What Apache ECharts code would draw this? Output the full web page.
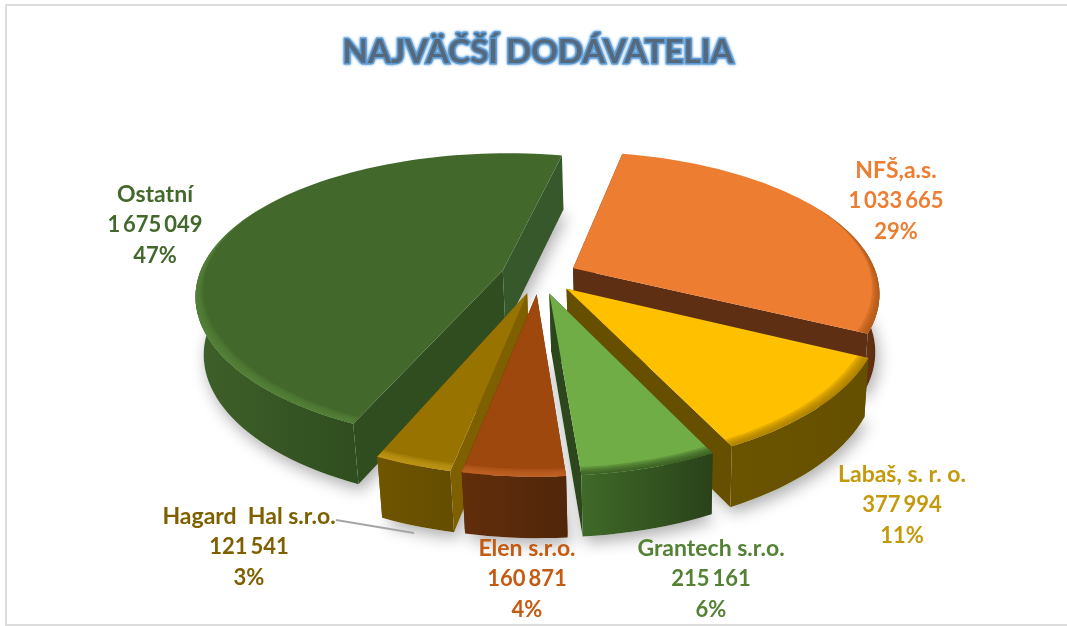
<!DOCTYPE html>
<html><head><meta charset="utf-8">
<style>html,body{margin:0;padding:0;background:#fff}#c{width:1067px;height:626px}</style>
<script src="https://cdn.jsdelivr.net/npm/echarts@6/dist/echarts.min.js"></script>
</head><body><div id="c"></div>
<script>
const titleText = 'NAJVÄČŠÍ DODÁVATELIA';
const names = ['NFŠ,a.s.', 'Labaš, s. r. o.', 'Grantech s.r.o.', 'Elen s.r.o.', 'Hagard  Hal s.r.o.', 'Ostatní'];
const values = [1033665, 377994, 215161, 160871, 121541, 1675049];

const topColors = ['#ed7d31', '#ffc000', '#70ad47', '#9e480e', '#997300', '#43682b'];
const bevelColors = ['#a85318', '#9a7400', '#2f4f1d', '#c9672a', '#c7a01c', '#56863a'];
const rimLeft = ['#6a3515', '#6b5400', '#3f6a28', '#622e0b', '#6f5500', '#3f6029'];
const rimRight = ['#5a2c10', '#655000', '#2a421a', '#50260a', '#644d00', '#2f4d1f'];
const startFace = ['#5f2f13', '#665000', '#2c471b', '#5a2a0a', '#7f6000', '#2f4d1f'];
const endFace = ['#5f2f13', '#665000', '#2c471b', '#5a2a0a', '#7f6000', '#37582a'];
const labelColors = ['#ed7d31', '#c49a0c', '#548235', '#c55a11', '#7f6000', '#43682b'];
const labelCentres = [[896, 201], [902, 505], [711, 579], [527, 579], [249, 547], [155, 225]];

const view = {cx: 539, cy: 276, R: 304, Ry: 141, perspX: 0.165, perspY: 0.186, explode: 0.126, depth: 57.5, startDeg: 12};

const total = values.reduce((a, b) => a + b, 0);
const rad = d => d * Math.PI / 180;
let acc = view.startDeg;
const slices = values.map(v => {
  const a0 = acc, a1 = acc + v / total * 360;
  acc = a1;
  return {a0, a1, b: (a0 + a1) / 2};
});
const groupDigits = n => String(n).replace(/\B(?=(\d{3})+$)/g, '\u2009');

function pt(s, r, deg, low) {
  const u = view.explode * Math.sin(rad(s.b)) + r * Math.sin(rad(deg));
  const v = view.explode * Math.cos(rad(s.b)) + r * Math.cos(rad(deg));
  let x = view.R * u / (1 + view.perspX * v), y = -view.Ry * v / (1 + view.perspY * v);
  if (low) { x = x * 0.982 + 2; y += view.depth * (1 - 0.06 * v); }
  return [view.cx + x, view.cy + y];
}
function arcAngles(s) {
  const out = [], n = Math.max(4, Math.ceil((s.a1 - s.a0) / 2));
  for (let i = 0; i <= n; i++) out.push(s.a0 + (s.a1 - s.a0) * i / n);
  return out;
}
const hgrad = (l, r) => new echarts.graphic.LinearGradient(0, 0, 1, 0, [{offset: 0, color: l}, {offset: 1, color: r}]);

const paintOrder = slices.map((s, i) => i).sort((a, b) => Math.cos(rad(slices[b].b)) - Math.cos(rad(slices[a].b)));

function renderShadow(params, api) {
  const s = slices[api.value(0)];
  return {type: 'polygon', shape: {points: [pt(s, 0, s.a0, true)].concat(arcAngles(s).map(d => pt(s, 1, d, true)))},
    style: {fill: '#fff', shadowColor: 'rgba(0,0,0,0.32)', shadowBlur: 16, shadowOffsetX: 3, shadowOffsetY: 6}, silent: true};
}
function renderSlice(params, api) {
  const i = api.value(0), s = slices[i], kids = [];
  const V = pt(s, 0, s.a0, false), VL = pt(s, 0, s.a0, true);
  const angles = arcAngles(s);
  const topArc = angles.map(d => pt(s, 1, d, false));
  kids.push({type: 'polygon', shape: {points: [V, pt(s, 1, s.a0, false), pt(s, 1, s.a0, true), VL]}, style: {fill: startFace[i]}});
  kids.push({type: 'polygon', shape: {points: [V, pt(s, 1, s.a1, false), pt(s, 1, s.a1, true), VL]}, style: {fill: endFace[i]}});
  const facing = angles.filter(d => Math.cos(rad(d)) < 0.15);
  if (facing.length > 1) {
    const hi = facing.map(d => pt(s, 1, d, false));
    const lo = facing.map(d => pt(s, 1, d, true)).reverse();
    kids.push({type: 'polygon', shape: {points: hi.concat(lo)}, style: {fill: hgrad(rimLeft[i], rimRight[i])}});
  }
  kids.push({type: 'polygon', shape: {points: [V].concat(topArc)}, style: {fill: topColors[i]}});
  const steps = 5;
  for (let k = steps; k >= 1; k--) {
    const inner = angles.map(d => {
      const f = Math.min(1, Math.max(0, 0.5 - Math.cos(rad(d))));
      return pt(s, 1 - 0.036 * f * k / steps, d, false);
    });
    kids.push({type: 'polygon', shape: {points: inner.concat(topArc.slice().reverse())}, style: {fill: bevelColors[i], opacity: 0.25}});
  }
  return {type: 'group', silent: true, children: kids};
}
function renderLabel(params, api) {
  const i = api.value(0), c = labelCentres[i];
  const pct = Math.round(values[i] / total * 100) + '%';
  const line = (text, dy, size) => ({type: 'text', silent: true, x: c[0], y: c[1] + dy, style: {
    text, fill: labelColors[i], font: 'bold ' + size + 'px Lato', align: 'center', verticalAlign: 'middle'}});
  return {type: 'group', silent: true, children: [line(names[i], -30.5, 23), line(groupDigits(values[i]), 0, 22), line(pct, 30.5, 22)]};
}
const itemData = paintOrder.map(i => [i]);
const chart = echarts.init(document.getElementById('c'), null, {renderer: 'canvas'});
chart.setOption({
  animation: false,
  backgroundColor: '#fff',
  title: {text: titleText, left: 533, top: 31, textAlign: 'center',
    textStyle: {fontFamily: 'Lato', fontWeight: 'bold', fontSize: 33, color: '#56697c',
      textBorderColor: '#5b9bd5', textBorderWidth: 3, textShadowColor: '#5b9bd5', textShadowBlur: 3}},
  graphic: [
    {type: 'rect', shape: {x: 5, y: 4, width: 1062, height: 2}, style: {fill: '#dcdcdc'}, silent: true},
    {type: 'rect', shape: {x: 5, y: 4, width: 2, height: 622}, style: {fill: '#dcdcdc'}, silent: true},
    {type: 'rect', shape: {x: 5, y: 624, width: 1062, height: 2}, style: {fill: '#dcdcdc'}, silent: true},
    {type: 'line', shape: {x1: 336, y1: 520, x2: 414, y2: 533}, style: {stroke: '#a6a6a6', lineWidth: 2}, silent: true, z: 20}
  ],
  series: [
    {type: 'custom', coordinateSystem: 'none', renderItem: renderShadow, data: itemData, z: 1, silent: true},
    {type: 'custom', coordinateSystem: 'none', renderItem: renderSlice, data: itemData, z: 2, silent: true},
    {type: 'custom', coordinateSystem: 'none', renderItem: renderLabel, data: itemData, z: 3, silent: true}
  ]
});
</script></body></html>
